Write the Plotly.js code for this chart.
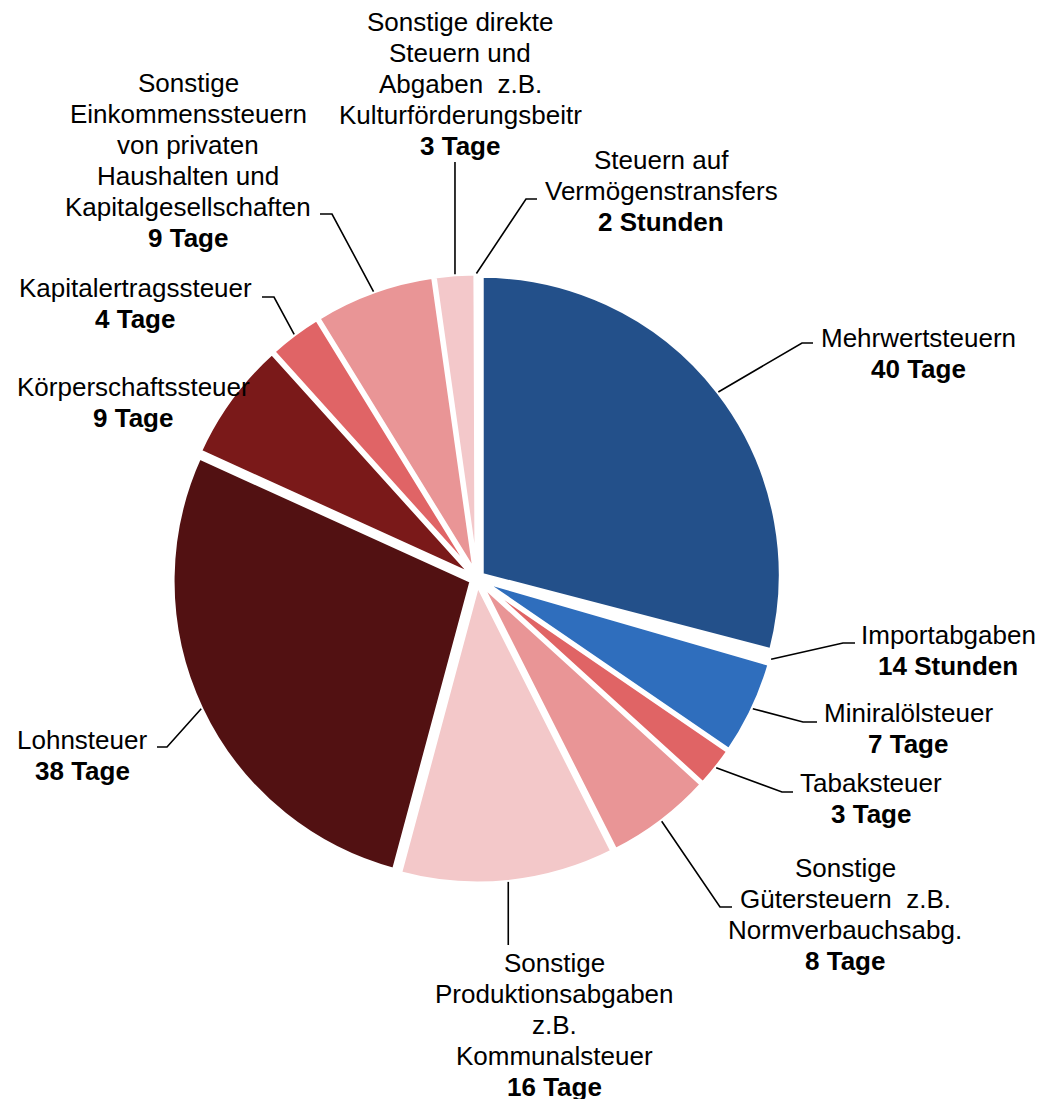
<!DOCTYPE html>
<html>
<head>
<meta charset="utf-8">
<script src="https://cdn.plot.ly/plotly-3.0.1.min.js"></script>
<style>html,body{margin:0;padding:0;background:#fff;}#chart{width:1042px;height:1099px;}</style>
</head>
<body>
<div id="chart"></div>
<script>
// ---- data ----
const categories = [
  "Mehrwertsteuern", "Importabgaben", "Miniralölsteuer", "Tabaksteuer",
  "Sonstige Gütersteuern z.B. Normverbauchsabg.", "Sonstige Produktionsabgaben z.B. Kommunalsteuer",
  "Lohnsteuer", "Körperschaftssteuer", "Kapitalertragssteuer",
  "Sonstige Einkommenssteuern von privaten Haushalten und Kapitalgesellschaften",
  "Sonstige direkte Steuern und Abgaben z.B. Kulturförderungsbeitr",
  "Steuern auf Vermögenstransfers"
];
// duration in days (14 h = 14/24 d, 2 h = 2/24 d)
const valuesDays = [40, 14/24, 7, 3, 8, 16, 38, 9, 4, 9, 3, 2/24];
const valueLabels = ["40 Tage", "14 Stunden", "7 Tage", "3 Tage", "8 Tage", "16 Tage",
  "38 Tage", "9 Tage", "4 Tage", "9 Tage", "3 Tage", "2 Stunden"];
const labelLines = [
  ["Mehrwertsteuern"],
  ["Importabgaben"],
  ["Miniralölsteuer"],
  ["Tabaksteuer"],
  ["Sonstige", "Gütersteuern\u00a0 z.B.", "Normverbauchsabg."],
  ["Sonstige", "Produktionsabgaben", "z.B.", "Kommunalsteuer"],
  ["Lohnsteuer"],
  ["Körperschaftssteuer"],
  ["Kapitalertragssteuer"],
  ["Sonstige", "Einkommenssteuern", "von privaten", "Haushalten und", "Kapitalgesellschaften"],
  ["Sonstige direkte", "Steuern und", "Abgaben\u00a0 z.B.", "Kulturförderungsbeitr"],
  ["Steuern auf", "Vermögenstransfers"]
];
const colors = ["#23508A", "#FFFFFF", "#2F6EBD", "#E06465", "#E99596", "#F3C8C9",
  "#521112", "#7A1919", "#E06466", "#E99596", "#F3C8CA", "#FFFFFF"];

// ---- layout (pixels) ----
const W = 1042, H = 1099;
const cx = 477, cy = 578.5, half = 305, pull = 0.02;
const fontSize = 26, lineGap = 31;
// label block: center x, first-line center y
const labelPos = [
  [918, 338], [948, 635], [908, 713], [871, 783], [845, 868], [554, 963],
  [82, 740], [133, 387], [135, 288], [188, 83], [460, 22], [661, 160]
];
// leader: [elbowX, elbowY, endX, endY]; elbowX null => vertical line from slice
const leaders = [
  [802, 343, 813, 343],
  [843, 643, 855, 643],
  [803, 722, 817, 722],
  [782, 792, 793, 792],
  [720, 907, 732, 907],
  [null, 945, null, 945],
  [167, 747, 157, 747],
  null,
  [274, 297, 262, 297],
  [332, 214, 320, 214],
  [null, 162, null, 162],
  [526, 199, 537, 199]
];

const px = x => x / W;
const py = y => 1 - y / H;

const total = valuesDays.reduce((a, b) => a + b, 0);
const rLead = half + 0;
let cum = 0;
const shapes = [];
const annotations = [];
valuesDays.forEach((v, i) => {
  const mid = (cum + v / 2) / total * 2 * Math.PI;
  cum += v;
  const sx = cx + rLead * Math.sin(mid);
  const sy = cy - rLead * Math.cos(mid);
  const L = leaders[i];
  if (L) {
    let path;
    if (L[0] === null) {
      path = `M ${px(sx)} ${py(sy)} L ${px(sx)} ${py(L[1])}`;
    } else {
      path = `M ${px(sx)} ${py(sy)} L ${px(L[0])} ${py(L[1])} L ${px(L[2])} ${py(L[3])}`;
    }
    shapes.push({type: "path", xref: "paper", yref: "paper", path: path,
      line: {color: "#000000", width: 1.6}});
  }
  const lines = labelLines[i].concat([valueLabels[i]]);
  lines.forEach((t, k) => {
    const bold = k === lines.length - 1;
    annotations.push({
      xref: "paper", yref: "paper",
      x: px(labelPos[i][0]), y: py(labelPos[i][1] + k * lineGap),
      xanchor: "center", yanchor: "middle", showarrow: false,
      text: bold ? "<b>" + t + "</b>" : t,
      font: {family: "Liberation Sans, Arial, sans-serif", size: fontSize, color: "#000000"}
    });
  });
});

const trace = {
  type: "pie",
  labels: categories,
  values: valuesDays,
  sort: false,
  direction: "clockwise",
  rotation: 0,
  pull: valuesDays.map(() => pull),
  textinfo: "none",
  hoverinfo: "label+value",
  marker: {colors: colors, line: {color: "#FFFFFF", width: 4}},
  domain: {x: [px(cx - half), px(cx + half)], y: [py(cy + half), py(cy - half)]},
  showlegend: false
};

const layout = {
  width: W, height: H,
  margin: {l: 0, r: 0, t: 0, b: 0},
  paper_bgcolor: "#FFFFFF",
  plot_bgcolor: "#FFFFFF",
  showlegend: false,
  shapes: shapes,
  annotations: annotations
};

Plotly.newPlot("chart", [trace], layout, {staticPlot: true});
</script>
</body>
</html>
